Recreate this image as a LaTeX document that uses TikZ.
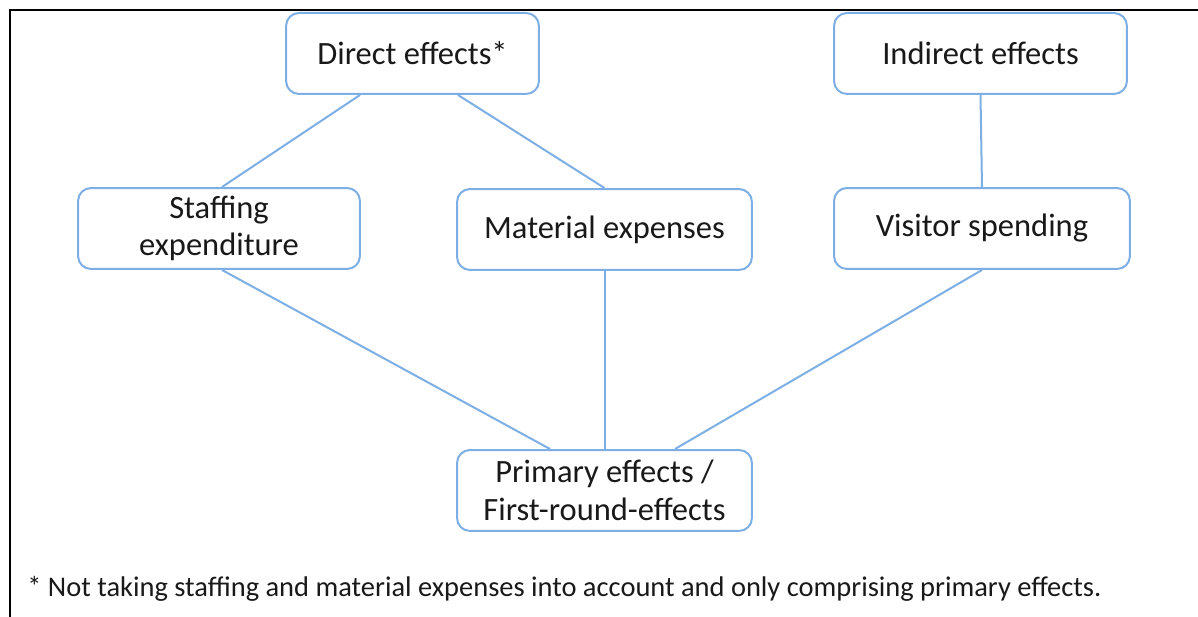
\documentclass[tikz,border=0pt]{standalone}
\usepackage{fontspec}
\setmainfont{Carlito}
\usepackage{tikz}
\usetikzlibrary{positioning,calc}
\definecolor{boxblue}{RGB}{125,175,228}
\definecolor{textgray}{RGB}{25,25,25}

\begin{document}
\begin{tikzpicture}[x=0.02cm,y=-0.02cm,
    effectbox/.style={draw=boxblue, line width=0.04cm, rounded corners=0.26cm, fill=white, align=center, inner sep=0pt, minimum height=1.62cm, text=textgray, font=\fontsize{18.5}{21.5}\selectfont},
    link/.style={draw=boxblue, line width=0.04cm}]
            \useasboundingbox (0,0) rectangle (1198,617);
            \draw[line width=0.045cm] (10,617) -- (10,10) -- (1198,10);

            \node[effectbox, minimum width=5.06cm](direct) at (412.5,53.5){Direct effects*};
            \node[effectbox, minimum width=5.86cm](indirect) at (980.5,53.5){Indirect effects};
            \node[effectbox, minimum width=5.64cm](staffing) at (219,228.5){Staffing\\expenditure};
            \node[effectbox, minimum width=5.90cm](material) at (604.5,229.5){Material expenses};
            \node[effectbox, minimum width=5.92cm](visitor) at (982,228.5){Visitor spending};
            \node[effectbox, minimum width=5.90cm](primary) at (604.5,490.5){Primary effects /\\First-round-effects};

            \draw[link]($(direct.south)+(-52.5,0)$)--($(staffing.north)+(3,0)$);
            \draw[link]($(direct.south)+(45.5,0)$)--(material.north);
            \draw[link](indirect.south)--(visitor.north);
            \draw[link]($(staffing.south)+(3,0)$)--($(primary.north)+(-54.5,0)$);
            \draw[link](material.south)--(primary.north);
            \draw[link](visitor.south)--($(primary.north)+(70.5,0)$);

            \node[anchor=west, text=textgray, font=\fontsize{16.2}{19}\selectfont, inner sep=0pt](note) at (27,589){* Not taking staffing and material expenses into account and only comprising primary effects.};
\end{tikzpicture}
\end{document}
